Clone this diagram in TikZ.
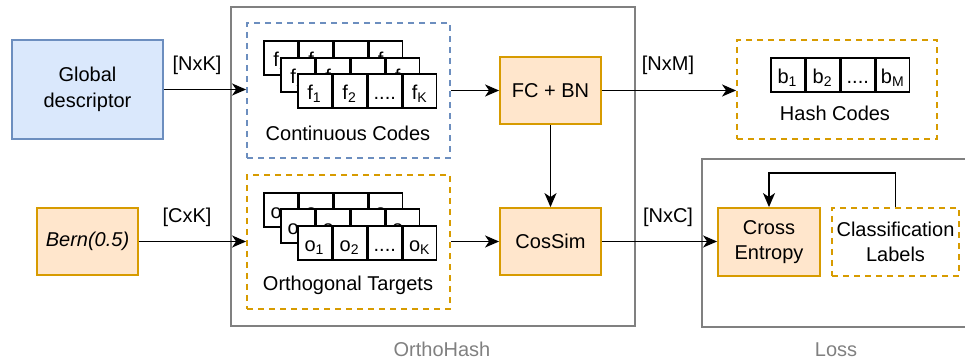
\documentclass[tikz,border=0pt]{standalone}
\usepackage{fontspec}
\setmainfont{Liberation Sans}
\usetikzlibrary{arrows.meta}
\definecolor{bluefill}{HTML}{DAE8FC}
\definecolor{bluedraw}{HTML}{6C8EBF}
\definecolor{orfill}{HTML}{FFE6CC}
\definecolor{ordraw}{HTML}{D79B00}
\definecolor{grayline}{HTML}{808080}
\definecolor{graytext}{HTML}{808080}
\newcommand\cellrow[7]{%
  \node[cell] (#1a) at (#2,#3) {#4};
  \node[cell] (#1b) at (#1a.north east) {#5};
  \node[cell] (#1c) at (#1b.north east) {#6};
  \node[cell] (#1d) at (#1c.north east) {#7};
}
\begin{document}
\begin{tikzpicture}[x=0.5pt,y=-0.5pt, font=\fontsize{10}{12.8}\selectfont,
 sz/.style 2 args={minimum width={#1*0.5pt}, minimum height={#2*0.5pt}},
 box/.style={draw, inner sep=0, line width=0.9pt, align=center},
 bluebox/.style={box, fill=bluefill, draw=bluedraw},
 orbox/.style={box, fill=orfill, draw=ordraw},
 dashbox/.style={box, dash pattern=on 3pt off 2.5pt},
 group/.style={box, draw=grayline},
 cell/.style={draw, fill=white, line width=0.8pt, inner sep=0, minimum width=16.75pt, minimum height=17pt, text height=9pt, text depth=0pt, anchor=north west},
 arr/.style={-{Stealth[length=7pt,width=6pt,inset=2pt]}, line width=0.8pt},
 lbl/.style={inner sep=0}
]
\useasboundingbox (0,0) rectangle (965,362);

% group boxes
\node[group, sz={404}{319}] (oh) at (433,166.5) {};
\node[group, sz={288}{168}] (loss) at (846,243) {};
\node[lbl, text=graytext] (ohl) at (442,349) {OrthoHash};
\node[lbl, text=graytext] (lossl) at (836,350) {Loss};

% inputs
\node[bluebox, sz={151}{99}] (gd) at (87.5,89.5) {Global\\descriptor};
\node[orbox, sz={101}{67}] (bern) at (87.5,241.5) {\itshape Bern(0.5)};

% dashed containers
\node[dashbox, draw=bluedraw, sz={203}{135}] (cc) at (348.5,90.5) {};
\node[dashbox, draw=ordraw, sz={203}{134}] (ot) at (348.5,242) {};
\node[lbl] (ccl) at (348,133) {Continuous Codes};
\node[lbl] (otl) at (348,285) {Orthogonal Targets};

% stacked cells: continuous codes
\cellrow{fA}{263}{40}{f\textsubscript{1}}{f\textsubscript{2}}{....}{f\textsubscript{K}}
\cellrow{fB}{280}{57}{f\textsubscript{1}}{f\textsubscript{2}}{....}{f\textsubscript{K}}
\cellrow{fC}{297}{73}{f\textsubscript{1}}{f\textsubscript{2}}{....}{f\textsubscript{K}}
% stacked cells: orthogonal targets
\cellrow{oA}{263}{192}{o\textsubscript{1}}{o\textsubscript{2}}{....}{o\textsubscript{K}}
\cellrow{oB}{280}{208}{o\textsubscript{1}}{o\textsubscript{2}}{....}{o\textsubscript{K}}
\cellrow{oC}{297}{225}{o\textsubscript{1}}{o\textsubscript{2}}{....}{o\textsubscript{K}}

% processing
\node[orbox, sz={101}{67}] (fc) at (550.5,90.5) {FC + BN};
\node[orbox, sz={101}{67}] (cs) at (550.5,241.5) {CosSim};

% hash codes
\node[dashbox, draw=ordraw, sz={200}{99}] (hc) at (837,89.5) {};
\cellrow{bA}{770}{57}{b\textsubscript{1}}{b\textsubscript{2}}{....}{b\textsubscript{M}}
\node[lbl] (hcl) at (835,113) {Hash Codes};

% loss
\node[orbox, sz={102}{68}] (ce) at (769,242) {Cross\\Entropy};
\node[dashbox, draw=ordraw, sz={127}{68}] (cl) at (895.5,242) {Classification\\Labels};

% connectors
\draw[arr] (gd.east) -- (gd.east -| cc.west);
\draw[arr] (bern.east) -- (bern.east -| ot.west);
\draw[arr] (cc.east |- fc.west) -- (fc.west);
\draw[arr] (ot.east |- cs.west) -- (cs.west);
\draw[arr] (fc.south) -- (cs.north);
\draw[arr] (fc.east) -- (fc.east -| hc.west);
\draw[arr] (cs.east) -- (cs.east -| ce.west);
\draw[arr] (cl.north) -- ++(0,-34) -| (ce.north);

% connector labels
\node[lbl] (l1) at (197,65) {[NxK]};
\node[lbl] (l2) at (187,217) {[CxK]};
\node[lbl] (l3) at (668,65) {[NxM]};
\node[lbl] (l4) at (668,217) {[NxC]};
\end{tikzpicture}
\end{document}
